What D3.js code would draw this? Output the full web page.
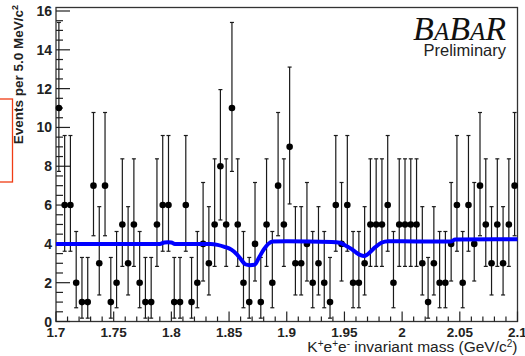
<!DOCTYPE html>
<html><head><meta charset="utf-8">
<script src="https://cdn.jsdelivr.net/npm/d3@7"></script>
<style>html,body{margin:0;padding:0;background:#fff;}svg{display:block;}</style>
</head><body>
<script>
// counts per 5 MeV bin, 80 bins from 1.700 to 2.100 GeV
const counts = [11,6,6,2,1,1,7,3,7,1, 2,5,3,5,2,1,1,5,6,6, 1,1,6,1,2,4,3,5,8,5,
                11,5,2,1,4,1,5,2,7,5, 9,3,3,4,2,3,2,1,6,4, 6,2,2,3,5,5,5,6,2,5,
                5,5,5,3,1,3,2,2,4,6, 2,6,4,7,5,3,5,3,5,7];
// Poisson (Garwood 68%) interval bounds indexed by count
const errLow  = [0,0.173,0.708,1.367,2.086,2.840,3.620,4.419,5.232,6.057,6.891,7.734];
const errHigh = [1.841,3.300,4.638,5.918,7.163,8.382,9.584,10.77,11.95,13.11,14.27,15.41];
// fitted curve
const fitMass = [1.700,1.790,1.794,1.797,1.800,1.803,1.834,1.840,1.846,1.852,1.857,1.861,1.864,1.868,1.872,1.876,1.880,1.884,1.888,1.900,1.939,1.946,1.952,1.956,1.960,1.964,1.967,1.970,1.9765,1.982,1.988,2.000,2.042,2.046,2.100];
const fitVal  = [4.00,4.00,4.07,4.08,4.07,4.00,4.00,3.95,3.85,3.70,3.45,3.15,2.95,2.90,2.92,3.30,3.70,4.00,4.12,4.13,4.10,4.06,3.88,3.74,3.56,3.42,3.38,3.46,3.82,4.06,4.14,4.13,4.12,4.22,4.24];
const xTicks = [1.7,1.75,1.8,1.85,1.9,1.95,2,2.05,2.1];
const xTickLabels = ["1.7","1.75","1.8","1.85","1.9","1.95","2","2.05","2.1"];
const yTicks = [0,2,4,6,8,10,12,14,16];
const yTickLabels = ["0","2","4","6","8","10","12","14","16"];
const xMin = 1.7, binW = 0.005;

const W = 525, H = 356;
const svg = d3.select("body").append("svg").attr("width", W).attr("height", H);
const x = d3.scaleLinear().domain([1.7, 2.1]).range([56, 517.5]);
const y = d3.scaleLinear().domain([0, 16]).range([321.5, 11]);
const font = "'Liberation Sans', Arial, Helvetica, sans-serif";
const ink = "#1a1a1a";

// red box at the left edge
svg.append("rect").attr("x", -10).attr("y", 99).attr("width", 22.5).attr("height", 83)
  .attr("fill", "none").attr("stroke", "#f03c14").attr("stroke-width", 1.3);

// frame
svg.append("rect").attr("x", 56).attr("y", 7.5).attr("width", 461.5).attr("height", 314)
  .attr("fill", "none").attr("stroke", "#333").attr("stroke-width", 1.3);

// x axis ticks
const xMinor = d3.range(0, 41).map(i => 1.7 + i * 0.01);
svg.append("g").selectAll("line").data(xMinor).join("line")
  .attr("x1", d => x(d)).attr("x2", d => x(d))
  .attr("y1", 321.5).attr("y2", (d, i) => i % 5 === 0 ? 311.5 : 316.5)
  .attr("stroke", "#222").attr("stroke-width", 1.2);
svg.append("g").selectAll("text").data(xTicks).join("text")
  .attr("x", d => x(d)).attr("y", 336.5).attr("text-anchor", "middle")
  .attr("font-family", font).attr("font-weight", "bold").attr("font-size", 13.5).attr("fill", "#222")
  .text((d, i) => xTickLabels[i]);

// y axis ticks
const yMinor = d3.range(0, 33).map(i => i * 0.5);
svg.append("g").selectAll("line").data(yMinor).join("line")
  .attr("x1", 56).attr("x2", (d, i) => i % 4 === 0 ? 70 : 63)
  .attr("y1", d => y(d)).attr("y2", d => y(d))
  .attr("stroke", "#222").attr("stroke-width", 1.2);
svg.append("g").selectAll("text").data(yTicks).join("text")
  .attr("x", 52).attr("y", d => y(d) + 5).attr("text-anchor", "end")
  .attr("font-family", font).attr("font-weight", "bold").attr("font-size", 14).attr("fill", "#222")
  .text((d, i) => yTickLabels[i]);

// data error bars + markers
const pts = counts.map((c, i) => ({m: xMin + (i + 0.5) * binW, c}));
const eb = svg.append("g").attr("stroke", ink).attr("stroke-width", 1.2);
eb.selectAll("line.v").data(pts).join("line").attr("class", "v")
  .attr("x1", d => x(d.m)).attr("x2", d => x(d.m))
  .attr("y1", d => y(errLow[d.c])).attr("y2", d => y(errHigh[d.c]));
eb.selectAll("line.t").data(pts).join("line").attr("class", "t")
  .attr("x1", d => x(d.m) - 2).attr("x2", d => x(d.m) + 2)
  .attr("y1", d => y(errHigh[d.c])).attr("y2", d => y(errHigh[d.c]));
eb.selectAll("line.b").data(pts.filter(d => d.c > 0)).join("line").attr("class", "b")
  .attr("x1", d => x(d.m) - 2).attr("x2", d => x(d.m) + 2)
  .attr("y1", d => y(errLow[d.c])).attr("y2", d => y(errLow[d.c]));
svg.append("g").selectAll("circle").data(pts).join("circle")
  .attr("cx", d => x(d.m)).attr("cy", d => y(d.c)).attr("r", 3.3).attr("fill", "#000");

// fit curve
const fit = fitMass.map((m, i) => [m, fitVal[i]]);
svg.append("path").datum(fit)
  .attr("d", d3.line().x(d => x(d[0])).y(d => y(d[1])).curve(d3.curveMonotoneX))
  .attr("fill", "none").attr("stroke", "#0000ff").attr("stroke-width", 4).attr("stroke-linejoin", "round");

// axis titles
const yt = svg.append("text").attr("transform", "translate(23,5) rotate(-90)")
  .attr("text-anchor", "end").attr("font-family", font).attr("font-weight", "bold")
  .attr("font-size", 13.5).attr("fill", "#222");
yt.append("tspan").text("Events per 5.0 MeV/c");
yt.append("tspan").attr("font-size", 9).attr("dy", -5).text("2");

const xt = svg.append("text").attr("x", 517.5).attr("y", 352).attr("text-anchor", "end")
  .attr("font-family", font).attr("font-size", 15.5).attr("fill", "#222");
xt.append("tspan").text("K");
xt.append("tspan").attr("font-size", 10).attr("dy", -5.5).text("+");
xt.append("tspan").attr("dy", 5.5).text("e");
xt.append("tspan").attr("font-size", 10).attr("dy", -5.5).text("+");
xt.append("tspan").attr("dy", 5.5).text("e");
xt.append("tspan").attr("font-size", 10).attr("dy", -5.5).text("-");
xt.append("tspan").attr("dy", 5.5).text(" invariant mass (GeV/c");
xt.append("tspan").attr("font-size", 10).attr("dy", -5.5).text("2");
xt.append("tspan").attr("dy", 5.5).text(")");

// BABAR logo
const serif = "'Liberation Serif', 'DejaVu Serif', serif";
const logo = svg.append("text").attr("x", 506).attr("y", 39.5).attr("text-anchor", "end")
  .attr("font-family", serif).attr("font-style", "italic").attr("fill", "#111");
[["B",34],["A",25],["B",34],["A",25],["R",34]].forEach(([t, s]) =>
  logo.append("tspan").attr("font-size", s).text(t));
svg.append("text").attr("x", 506).attr("y", 56).attr("text-anchor", "end")
  .attr("font-family", font).attr("font-size", 16.5).attr("fill", "#222").text("Preliminary");
</script>
</body></html>
